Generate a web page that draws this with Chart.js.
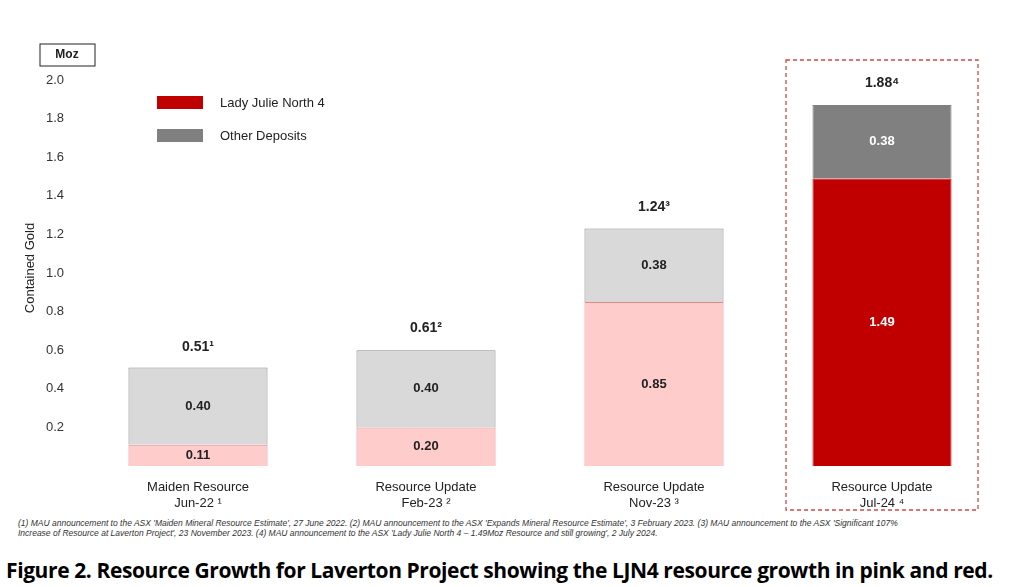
<!DOCTYPE html>
<html>
<head>
<meta charset="utf-8">
<script src="https://cdn.jsdelivr.net/npm/chart.js@4"></script>
<style>
  body { margin: 0; background: #fff; width: 1024px; height: 587px; overflow: hidden; font-family: Arial, "Liberation Sans", sans-serif; }
  #wrap { position: relative; width: 1024px; height: 512px; }
  .notes { position: absolute; left: 18px; top: 518px; width: 900px; font-size: 8.5px; font-style: italic; color: #333; line-height: 10px; }
  .caption { position: absolute; left: 6px; top: 556px; font-family: "Open Sans", sans-serif; font-weight: bold; font-size: 21px; color: #000; letter-spacing: -0.4px; white-space: nowrap; }
</style>
</head>
<body>
<div id="wrap"><canvas id="chart" width="1024" height="512"></canvas></div>
<div class="notes">(1) MAU announcement to the ASX 'Maiden Mineral Resource Estimate', 27 June 2022. (2) MAU announcement to the ASX 'Expands Mineral Resource Estimate', 3 February 2023. (3) MAU announcement to the ASX 'Significant 107% Increase of Resource at Laverton Project', 23 November 2023. (4) MAU announcement to the ASX 'Lady Julie North 4 – 1.49Moz Resource and still growing', 2 July 2024.</div>
<div class="caption">Figure 2. Resource Growth for Laverton Project showing the LJN4 resource growth in pink and red.</div>
<script>
// -------------------- DATA --------------------
const categories = [["Maiden Resource", "Jun-22 \u00b9"], ["Resource Update", "Feb-23 \u00b2"], ["Resource Update", "Nov-23 \u00b3"], ["Resource Update", "Jul-24 \u2074"]];
const ljn4 = [0.11, 0.20, 0.85, 1.49];
const other = [0.40, 0.40, 0.38, 0.38];
const totals = ["0.51\u00b9", "0.61\u00b2", "1.24\u00b3", "1.88\u2074"];
const totalValues = [0.51, 0.61, 1.24, 1.88];
const yTicks = [0.2, 0.4, 0.6, 0.8, 1.0, 1.2, 1.4, 1.6, 1.8, 2.0];

const ljnFill = ["#ffcccc", "#ffcccc", "#ffcccc", "#c00000"];
const ljnLine = ["#e08a8a", "#e08a8a", "#e08a8a", "#c00000"];
const otherFill = ["#d9d9d9", "#d9d9d9", "#d9d9d9", "#808080"];
const otherLine = ["#8c8c8c", "#8c8c8c", "#8c8c8c", "#808080"];

// -------------------- PLUGIN --------------------
const extras = {
  id: "extras",
  afterDatasetsDraw(chart) {
    const ctx = chart.ctx;
    const x = chart.scales.x, y = chart.scales.y;
    ctx.save();
    ctx.textAlign = "center";
    ctx.textBaseline = "middle";

    // values inside bars
    ctx.font = "bold 13px Arial, 'Liberation Sans'";
    chart.data.datasets.forEach((ds, di) => {
      chart.getDatasetMeta(di).data.forEach((bar, i) => {
        ctx.fillStyle = i === 3 ? "#fff" : "#222";
        ctx.fillText(ds.data[i].toFixed(2), bar.x, (bar.y + bar.base) / 2);
      });
    });

    // totals above bars
    ctx.font = "bold 14px Arial, 'Liberation Sans'";
    ctx.fillStyle = "#222";
    totals.forEach((t, i) => {
      ctx.fillText(t, x.getPixelForValue(i), y.getPixelForValue(totalValues[i]) - 20);
    });

    // dashed box around last category
    const cx = x.getPixelForValue(3);
    ctx.strokeStyle = "#d04848";
    ctx.lineWidth = 1.3;
    ctx.setLineDash([4, 3]);
    ctx.strokeRect(cx - 96, 60, 192, 450);
    ctx.setLineDash([]);

    // Moz box
    ctx.strokeStyle = "#222";
    ctx.lineWidth = 1;
    ctx.strokeRect(40, 44, 55, 22);
    ctx.font = "bold 12px Arial, 'Liberation Sans'";
    ctx.fillText("Moz", 67, 55);

    // y title
    ctx.translate(30, 268);
    ctx.rotate(-Math.PI / 2);
    ctx.font = "13px Arial, 'Liberation Sans'";
    ctx.fillText("Contained Gold", 0, 0);
    ctx.restore();

    // legend
    ctx.save();
    ctx.fillStyle = "#c00000";
    ctx.fillRect(157, 96, 46, 13);
    ctx.fillStyle = "#808080";
    ctx.fillRect(157, 129, 46, 13);
    ctx.fillStyle = "#222";
    ctx.font = "13px Arial, 'Liberation Sans'";
    ctx.textBaseline = "middle";
    ctx.fillText("Lady Julie North 4", 220, 103);
    ctx.fillText("Other Deposits", 220, 136);
    ctx.restore();
  }
};

// -------------------- CHART --------------------
new Chart(document.getElementById("chart"), {
  type: "bar",
  data: {
    labels: categories,
    datasets: [
      { label: "Lady Julie North 4", data: ljn4, backgroundColor: ljnFill, borderColor: ljnLine, borderWidth: 1, barPercentage: 0.61, categoryPercentage: 1 },
      { label: "Other Deposits", data: other, backgroundColor: otherFill, borderColor: otherLine, borderWidth: 1, barPercentage: 0.61, categoryPercentage: 1 }
    ]
  },
  options: {
    responsive: false,
    animation: false,
    layout: { padding: { top: 80, left: 0, right: 28, bottom: 0 } },
    plugins: { legend: { display: false }, tooltip: { enabled: false } },
    scales: {
      x: {
        stacked: true,
        grid: { display: false },
        border: { display: false },
        ticks: { color: "#222", font: { size: 13, family: "Arial, 'Liberation Sans'" }, padding: 6 },
        afterFit(s) { s.height = 46; }
      },
      y: {
        stacked: true,
        min: 0, max: 2.0,
        grid: { display: false },
        border: { display: false },
        afterBuildTicks(s) { s.ticks = yTicks.map(v => ({ value: v })); },
        ticks: { color: "#333", font: { size: 13, family: "Arial, 'Liberation Sans'" }, padding: 12, callback: v => v.toFixed(1) },
        afterFit(s) { s.width = 84; }
      }
    }
  },
  plugins: [extras]
});
</script>
</body>
</html>
